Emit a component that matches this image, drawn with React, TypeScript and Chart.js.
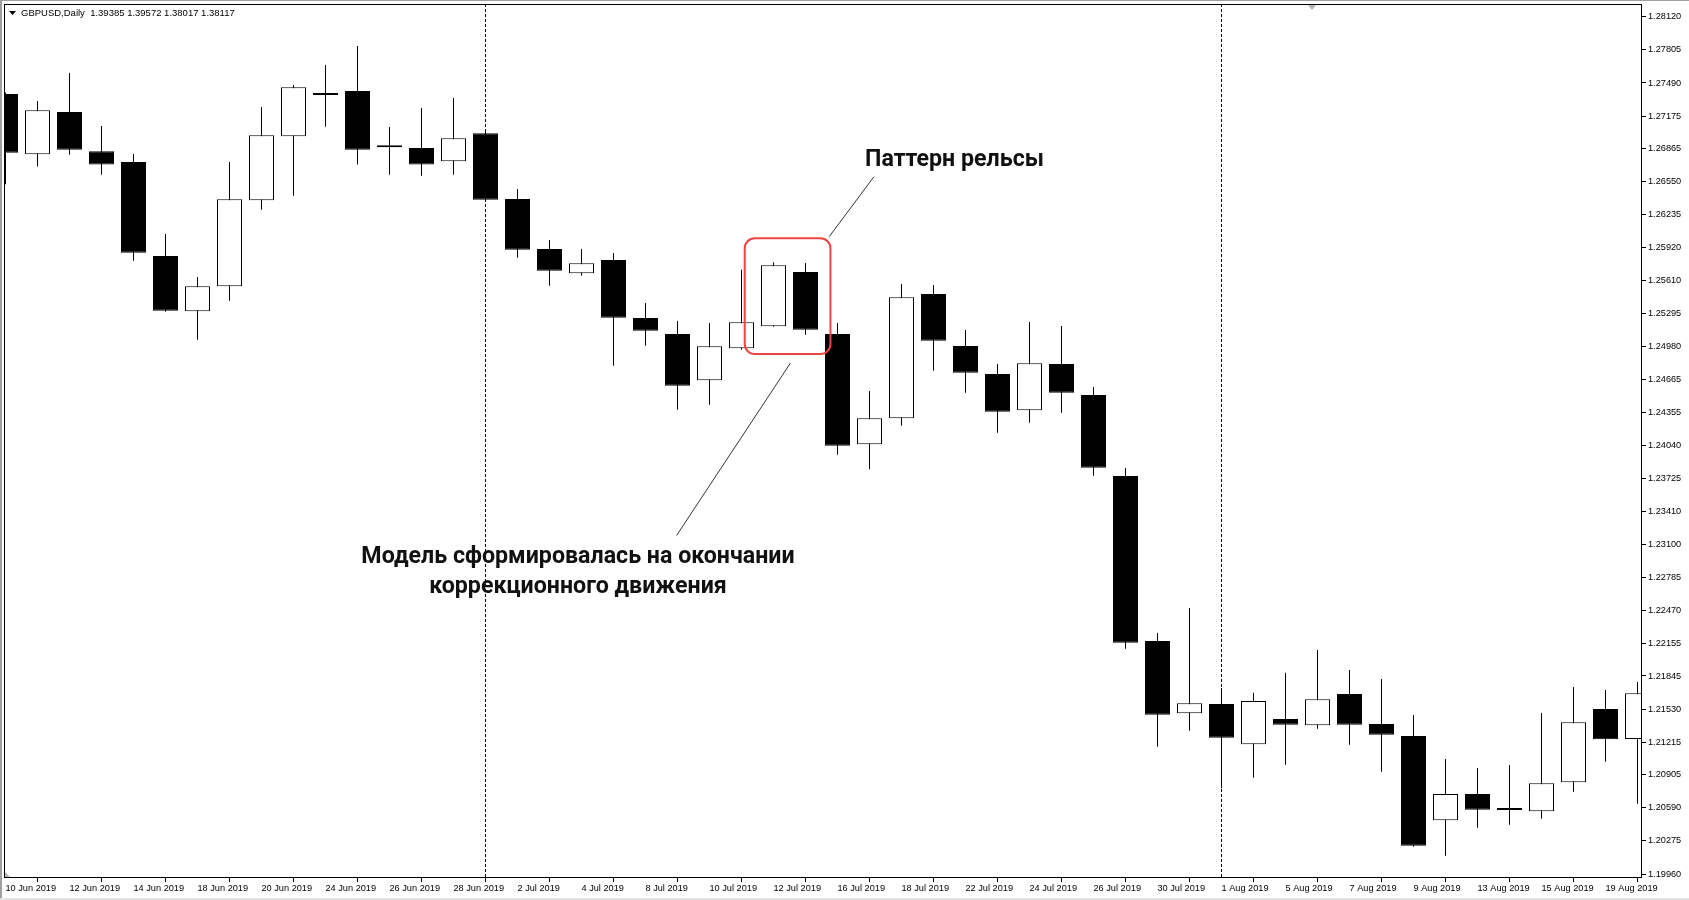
import React, { useEffect, useRef } from "react";
import { Chart, registerables } from "chart.js";

Chart.register(...registerables);

// ---------- DATA ----------
const dates = [
  "10 Jun 2019", "11 Jun 2019", "12 Jun 2019", "13 Jun 2019", "14 Jun 2019",
  "17 Jun 2019", "18 Jun 2019", "19 Jun 2019", "20 Jun 2019", "21 Jun 2019",
  "24 Jun 2019", "25 Jun 2019", "26 Jun 2019", "27 Jun 2019", "28 Jun 2019",
  "1 Jul 2019", "2 Jul 2019", "3 Jul 2019", "4 Jul 2019", "5 Jul 2019",
  "8 Jul 2019", "9 Jul 2019", "10 Jul 2019", "11 Jul 2019", "12 Jul 2019",
  "15 Jul 2019", "16 Jul 2019", "17 Jul 2019", "18 Jul 2019", "19 Jul 2019",
  "22 Jul 2019", "23 Jul 2019", "24 Jul 2019", "25 Jul 2019", "26 Jul 2019",
  "29 Jul 2019", "30 Jul 2019", "31 Jul 2019", "1 Aug 2019", "2 Aug 2019",
  "5 Aug 2019", "6 Aug 2019", "7 Aug 2019", "8 Aug 2019", "9 Aug 2019",
  "12 Aug 2019", "13 Aug 2019", "14 Aug 2019", "15 Aug 2019", "16 Aug 2019",
  "19 Aug 2019", "20 Aug 2019",
];

const opens = [
  1.27386, 1.26812, 1.27214, 1.2684, 1.26738, 1.25843, 1.25317, 1.25555, 1.26374, 1.26983,
  1.27382, 1.27414, 1.26884, 1.26872, 1.26745, 1.27012, 1.26386, 1.2591, 1.25679, 1.25805,
  1.25253, 1.25101, 1.2466, 1.24965, 1.25174, 1.25691, 1.25101, 1.24051, 1.24298, 1.25482,
  1.24987, 1.2472, 1.24374, 1.24815, 1.2452, 1.23749, 1.22178, 1.2149, 1.21578, 1.21195,
  1.21436, 1.21376, 1.21674, 1.21388, 1.21274, 1.20471, 1.20722, 1.20575, 1.20557, 1.20833,
  1.21531, 1.21245,
];

const highs = [
  1.274, 1.27319, 1.27586, 1.27081, 1.26814, 1.26053, 1.25643, 1.26738, 1.27262, 1.27471,
  1.27662, 1.27843, 1.27071, 1.27252, 1.27348, 1.2703, 1.26481, 1.25996, 1.2591, 1.25872,
  1.25396, 1.25225, 1.25206, 1.25713, 1.25783, 1.25777, 1.25206, 1.24558, 1.25577, 1.25567,
  1.25139, 1.24815, 1.25215, 1.25177, 1.24596, 1.23825, 1.22254, 1.22492, 1.21731, 1.21686,
  1.21876, 1.22093, 1.21902, 1.21816, 1.21474, 1.21055, 1.20969, 1.20998, 1.21493, 1.2174,
  1.21712, 1.21788,
];

const lows = [
  1.26526, 1.26694, 1.26808, 1.26617, 1.25799, 1.25313, 1.25047, 1.25418, 1.26284, 1.26417,
  1.27074, 1.26713, 1.26617, 1.26608, 1.26617, 1.2636, 1.25827, 1.25561, 1.25656, 1.24799,
  1.24989, 1.2438, 1.24428, 1.24951, 1.2517, 1.25094, 1.23952, 1.23813, 1.24228, 1.24751,
  1.24542, 1.24161, 1.24256, 1.24352, 1.23752, 1.22105, 1.21172, 1.21324, 1.20776, 1.20877,
  1.21001, 1.21343, 1.21191, 1.20934, 1.2022, 1.20134, 1.20401, 1.20429, 1.20486, 1.20743,
  1.21029, 1.20629,
];

const closes = [
  1.26827, 1.2723, 1.26855, 1.26713, 1.25875, 1.25323, 1.25555, 1.26383, 1.26992, 1.27449,
  1.27375, 1.26855, 1.26878, 1.26713, 1.26964, 1.26379, 1.25903, 1.25703, 1.25774, 1.25256,
  1.25132, 1.24609, 1.24984, 1.25212, 1.25755, 1.25142, 1.24037, 1.24298, 1.2545, 1.25037,
  1.24732, 1.24361, 1.24822, 1.24542, 1.23828, 1.22162, 1.21477, 1.21585, 1.21258, 1.21607,
  1.21381, 1.21623, 1.21381, 1.21286, 1.20229, 1.20722, 1.20572, 1.2057, 1.20823, 1.21404,
  1.21242, 1.2168,
];

const yTickLabels = [
  "1.28120", "1.27805", "1.27490", "1.27175", "1.26865", "1.26550", "1.26235", "1.25920",
  "1.25610", "1.25295", "1.24980", "1.24665", "1.24355", "1.24040", "1.23725", "1.23410",
  "1.23100", "1.22785", "1.22470", "1.22155", "1.21845", "1.21530", "1.21215", "1.20905",
  "1.20590", "1.20275", "1.19960",
];

const xTickIndices = [
  0, 2, 4, 6, 8, 10, 12, 14, 16, 18, 20, 22, 24, 26, 28, 30, 32, 34, 36, 38, 40, 42, 44, 46, 48, 50,
];

const separatorIndices = [15, 38];

const headerText = "GBPUSD,Daily  1.39385 1.39572 1.38017 1.38117";
const patternLabel = "Паттерн рельсы";
const noteLines = ["Модель сформировалась на окончании", "коррекционного движения"];

// ---------- LAYOUT / STYLE ----------
const W = 1689;
const H = 900;
const X_MIN = -0.046875;
const X_MAX = 51.140625;
const Y_MIN = 1.19922;
const Y_MAX = 1.28242;
const AXIS_FONT = "'Liberation Sans', 'DejaVu Sans', sans-serif";
const AXIS_SIZE = 9.2;
const NOTE_FONT = "bold 23.2px Roboto, 'Noto Sans', sans-serif";

// annotation anchors, in data coordinates (bar index, price)
const ann = {
  box: { x1: 23.1, x2: 25.78, y1: 1.26012, y2: 1.2491, r: 10 },
  upperLine: { x1: 25.74, y1: 1.26027, x2: 27.14, y2: 1.26598 },
  lowerLine: { x1: 24.53, y1: 1.24824, x2: 20.97, y2: 1.23182 },
  patternText: { x: 26.86, y: 1.267 },
  noteText: { x: 17.89, y: [1.22923, 1.22632] },
};

const overlayPlugin = {
  id: "overlay",
  beforeDatasetsDraw(chart: any) {
    const { ctx, chartArea: a } = chart;
    const xs = chart.scales.x;
    ctx.save();
    ctx.strokeStyle = "#000";
    ctx.lineWidth = 1;
    ctx.setLineDash([3, 2]);
    separatorIndices.forEach((i) => {
      const px = Math.round(xs.getPixelForValue(i) - 0.5) + 0.5;
      ctx.beginPath();
      ctx.moveTo(px, a.top);
      ctx.lineTo(px, a.bottom);
      ctx.stroke();
    });
    ctx.restore();
  },
  afterDraw(chart: any) {
    const { ctx, chartArea: a } = chart;
    const xs = chart.scales.x;
    const ys = chart.scales.y;
    const px = (v: number) => xs.getPixelForValue(v);
    const py = (v: number) => ys.getPixelForValue(v);
    ctx.save();

    // outer window frame
    ctx.fillStyle = "#a0a0a0";
    ctx.fillRect(0, 0, W, 1);
    ctx.fillRect(0, 0, 2, H);
    ctx.fillStyle = "#e3e3e3";
    ctx.fillRect(0, H - 2, W, 2);

    // plot frame
    ctx.strokeStyle = "#000";
    ctx.lineWidth = 1;
    ctx.strokeRect(a.left + 0.5, a.top + 0.5, a.right - a.left - 1, a.bottom - a.top - 1);

    // chart-shift marker & corner marker
    ctx.fillStyle = "#b4b4b4";
    ctx.beginPath();
    ctx.moveTo(1308, 5);
    ctx.lineTo(1316, 5);
    ctx.lineTo(1312, 10);
    ctx.closePath();
    ctx.fill();
    ctx.beginPath();
    ctx.moveTo(a.left + 1, a.bottom - 6);
    ctx.lineTo(a.left + 1, a.bottom - 1);
    ctx.lineTo(a.left + 6, a.bottom - 1);
    ctx.closePath();
    ctx.fill();

    // header
    ctx.fillStyle = "#000";
    ctx.beginPath();
    ctx.moveTo(9, 11);
    ctx.lineTo(16, 11);
    ctx.lineTo(12.5, 15);
    ctx.closePath();
    ctx.fill();
    ctx.font = "9.5px " + AXIS_FONT;
    ctx.textBaseline = "middle";
    ctx.textAlign = "left";
    ctx.fillText(headerText, 21, 13);

    // annotation: red rounded box
    const b = ann.box;
    ctx.strokeStyle = "#f04444";
    ctx.lineWidth = 2;
    ctx.beginPath();
    ctx.roundRect(px(b.x1), py(b.y1), px(b.x2) - px(b.x1), py(b.y2) - py(b.y1), b.r);
    ctx.stroke();

    // leader lines
    ctx.strokeStyle = "#333";
    ctx.lineWidth = 1;
    [ann.upperLine, ann.lowerLine].forEach((l) => {
      ctx.beginPath();
      ctx.moveTo(px(l.x1), py(l.y1));
      ctx.lineTo(px(l.x2), py(l.y2));
      ctx.stroke();
    });

    // texts
    ctx.fillStyle = "#111";
    ctx.font = NOTE_FONT;
    ctx.textBaseline = "alphabetic";
    ctx.textAlign = "left";
    ctx.fillText(patternLabel, px(ann.patternText.x), py(ann.patternText.y));
    ctx.textAlign = "center";
    noteLines.forEach((t, k) => {
      ctx.fillText(t, px(ann.noteText.x), py(ann.noteText.y[k]));
    });

    ctx.restore();
  },
};

export default function App() {
  const ref = useRef<HTMLCanvasElement | null>(null);

  useEffect(() => {
    if (!ref.current) return;
    const isUp = (i: number) => closes[i] >= opens[i];
    const chart = new Chart(ref.current, {
      type: "bar",
      data: {
        datasets: [
          {
            label: "body",
            data: opens.map((o, i) => ({ x: i, y: [o, closes[i]] })) as any,
            backgroundColor: (c: any) => (isUp(c.dataIndex) ? "#ffffff" : "#000000"),
            borderColor: "#000000",
            borderWidth: 1,
            borderSkipped: false,
            barThickness: 25,
            minBarLength: 2,
            inflateAmount: 0,
            grouped: false,
            order: 0,
          } as any,
          {
            label: "wick",
            data: lows.map((l, i) => ({ x: i, y: [l, highs[i]] })) as any,
            backgroundColor: "#000000",
            borderWidth: 0,
            barThickness: 1,
            inflateAmount: 0,
            grouped: false,
            order: 1,
          } as any,
        ],
      },
      options: {
        animation: false,
        responsive: false,
        events: [],
        layout: { padding: { left: 4, top: 4, right: 0, bottom: 0 } },
        plugins: { legend: { display: false }, tooltip: { enabled: false } },
        scales: {
          x: {
            type: "linear",
            min: X_MIN,
            max: X_MAX,
            offset: false,
            border: { display: false },
            grid: {
              drawOnChartArea: false,
              drawTicks: true,
              tickLength: 4,
              tickColor: "#000",
              lineWidth: 1,
            },
            ticks: {
              autoSkip: false,
              maxRotation: 0,
              minRotation: 0,
              align: "start",
              padding: 1,
              color: "#000",
              font: { family: AXIS_FONT, size: AXIS_SIZE },
              callback: (v: any) => dates[Number(v)] ?? "",
            },
            afterBuildTicks: (s: any) => {
              s.ticks = xTickIndices.map((v) => ({ value: v }));
            },
            afterFit: (s: any) => {
              s.height = 22;
              s.paddingLeft = 0;
              s.paddingRight = 0;
            },
          } as any,
          y: {
            type: "linear",
            position: "right",
            min: Y_MIN,
            max: Y_MAX,
            border: { display: false },
            grid: {
              drawOnChartArea: false,
              drawTicks: true,
              tickLength: 4,
              tickColor: "#000",
              lineWidth: 1,
            },
            ticks: {
              autoSkip: false,
              padding: 2,
              color: "#000",
              font: { family: AXIS_FONT, size: AXIS_SIZE },
              callback: (v: any) => Number(v).toFixed(5),
            },
            afterBuildTicks: (s: any) => {
              s.ticks = yTickLabels.map((t) => ({ value: parseFloat(t) }));
            },
            afterFit: (s: any) => {
              s.width = 47;
              s.paddingTop = 0;
              s.paddingBottom = 0;
            },
          } as any,
        },
      },
      plugins: [overlayPlugin as any],
    });
    return () => chart.destroy();
  }, []);

  return (
    <div style={{ position: "absolute", left: 0, top: 0, width: W, height: H, background: "#fff" }}>
      <canvas ref={ref} width={W} height={H} style={{ display: "block", width: W, height: H }} />
    </div>
  );
}
